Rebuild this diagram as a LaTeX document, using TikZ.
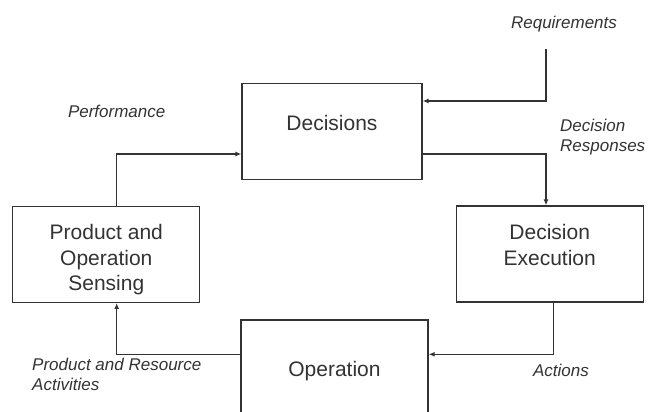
\documentclass[tikz,border=0pt]{standalone}
\usepackage{fontspec}
\setmainfont{Liberation Sans}
\usetikzlibrary{arrows.meta,calc}
\definecolor{ink}{HTML}{333333}
\tikzset{
  box/.style={draw=ink, line width=1.3pt, minimum width=187pt, minimum height=96pt, inner sep=0pt},
  boxtext/.style={text=ink, font=\fontsize{21pt}{25.5pt}\selectfont, align=center, inner sep=0pt},
  lbl/.style={text=ink, font=\fontsize{17pt}{20.5pt}\selectfont\itshape, inner sep=0pt},
  conn/.style={draw=ink, line width=1.3pt, -{Latex[length=6pt,width=5pt]}}
}
\begin{document}
\begin{tikzpicture}[x=1pt,y=-1pt]
\useasboundingbox (0,0) rectangle (648,412);
\fill[white] (0,0) rectangle (648,412);
\begin{scope}
\clip (0,0) rectangle (648,412);
\node[box, minimum width=180pt] (dec) at (332,131.5) {};
\node[box] (sens) at (106.3,254.3) {};
\node[box] (de) at (549.7,254) {};
\node[box] (op) at (334.5,368) {};
\end{scope}
\node[boxtext] (dect) at (332,123) {Decisions};
\node[boxtext] (senst) at (106.3,260) {Product and\\Operation\\Sensing};
\node[boxtext] (det) at (549.7,245) {Decision\\Execution};
\node[boxtext] (opt) at (334.5,371) {Operation};

\node[lbl] (lreq) at (564,24) {Requirements};
\node[lbl, anchor=west, align=left] (lresp) at (560,137) {Decision\\Responses};
\node[lbl] (lperf) at (116.7,111.7) {Performance};
\node[lbl] (lact) at (561,370) {Actions};
\node[lbl, anchor=west, align=left] (lprod) at (32,374.5) {Product and Resource\\Activities};

\coordinate (rq) at (546,49);
\draw[conn] (rq) |- ([yshift=30.5pt]dec.east);
\draw[conn] ([yshift=-22.5pt]dec.east) -| ([xshift=-3.7pt]de.north);
\draw[conn] ([xshift=3.6pt]de.south) |- ([yshift=13.7pt]op.east);
\draw[conn] ([yshift=13.7pt]op.west) -| ([xshift=10.4pt]sens.south);
\draw[conn] ([xshift=10.4pt]sens.north) |- ([yshift=-22.5pt]dec.west);
\end{tikzpicture}
\end{document}
